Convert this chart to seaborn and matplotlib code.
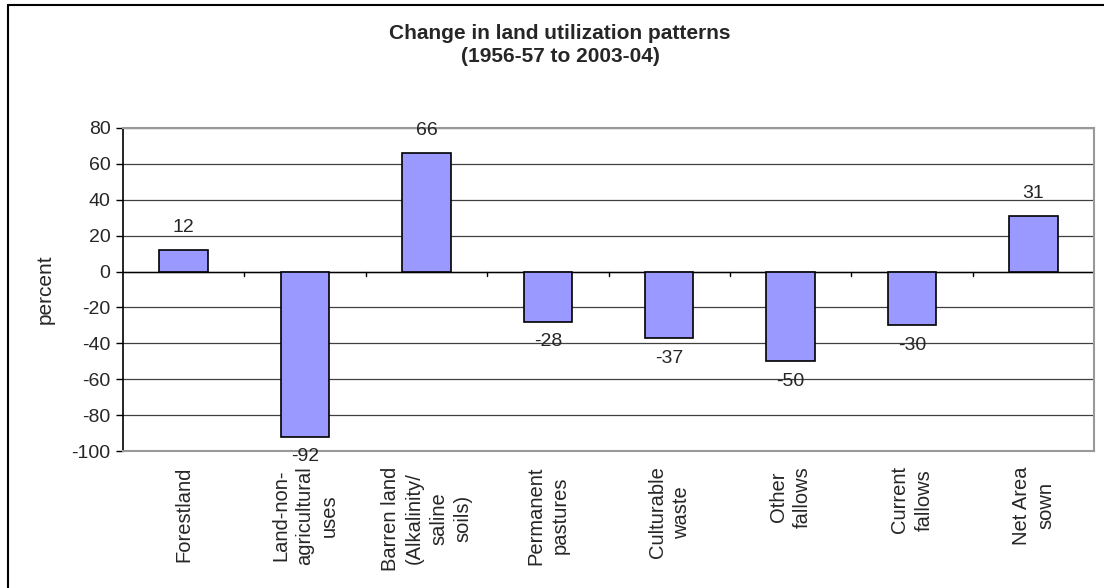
import numpy as np
import pandas as pd
import matplotlib.pyplot as plt
import seaborn as sns
from matplotlib.lines import Line2D

# data
categories = ["Forestland", "Land-non-\nagricultural\nuses", "Barren land\n(Alkalinity/\nsaline\nsoils)",
              "Permanent\npastures", "Culturable\nwaste", "Other\nfallows", "Current\nfallows",
              "Net Area\nsown"]
values = [12, -92, 66, -28, -37, -50, -30, 31]

df = pd.DataFrame({"category": categories, "percent": values})

sns.set_style("white")
plt.rcParams['font.family'] = ['Liberation Sans', 'DejaVu Sans']
plt.rcParams['axes.unicode_minus'] = False

fig = plt.figure(figsize=(11.04, 5.88), dpi=100)
ax = fig.add_axes([123 / 1104, 1 - 451 / 588, (1094 - 123) / 1104, (451 - 128) / 588])

sns.barplot(data=df, x="category", y="percent", color="#9999FF", saturation=1,
            edgecolor="black", linewidth=1.2, width=0.4, ax=ax, zorder=3)

ax.set_ylim(-100, 80)
ax.set_xlim(-0.5, len(categories) - 0.5)
ax.set_yticks(np.arange(-100, 81, 20))
ax.yaxis.grid(True, color="#404040", linewidth=0.9, zorder=0)
ax.set_axisbelow(True)

# value labels (above positive bars, below negative ones)
for i, v in enumerate(values):
    off = 16 if v >= 0 else -14.5
    ax.annotate(str(v), (i, v), xytext=(0, off), textcoords="offset points",
                ha="center", va="center", fontsize=14, zorder=4)

# zero axis with ticks at category boundaries
ax.axhline(0, color="black", linewidth=1.0, zorder=2)
for b in np.arange(0.5, len(categories) - 0.5, 1):
    ax.plot([b, b], [0, -2.5], color="black", linewidth=1.0, zorder=2)

ax.set_xticks(range(len(categories)))
ax.set_xticklabels(categories, rotation=90, fontsize=14.5, ha="center", va="top",
                   multialignment="center", linespacing=1.35)
ax.tick_params(axis="x", length=0, pad=11)
ax.tick_params(axis="y", length=5, width=1, color="black", labelsize=14, left=True, pad=4)

for side in ["top", "right", "bottom"]:
    ax.spines[side].set_color("#999999")
    ax.spines[side].set_linewidth(1.5)
ax.spines["left"].set_color("black")
ax.spines["left"].set_linewidth(1.2)

ax.set_xlabel("")
ax.set_ylabel("percent", fontsize=15, labelpad=12)

fig.text(560 / 1104, 1 - 45 / 588, "Change in land utilization patterns\n(1956-57 to 2003-04)",
         ha="center", va="center", fontsize=15, fontweight="bold", linespacing=1.25)

# outer chart border (left and top only visible)
fig.add_artist(Line2D([8 / 1104, 8 / 1104], [0, 1 - 5 / 588], color="black", linewidth=1.5,
                      transform=fig.transFigure))
fig.add_artist(Line2D([8 / 1104, 1], [1 - 5 / 588, 1 - 5 / 588], color="black", linewidth=1.5,
                      transform=fig.transFigure))

fig.savefig("out.png", dpi=100)
